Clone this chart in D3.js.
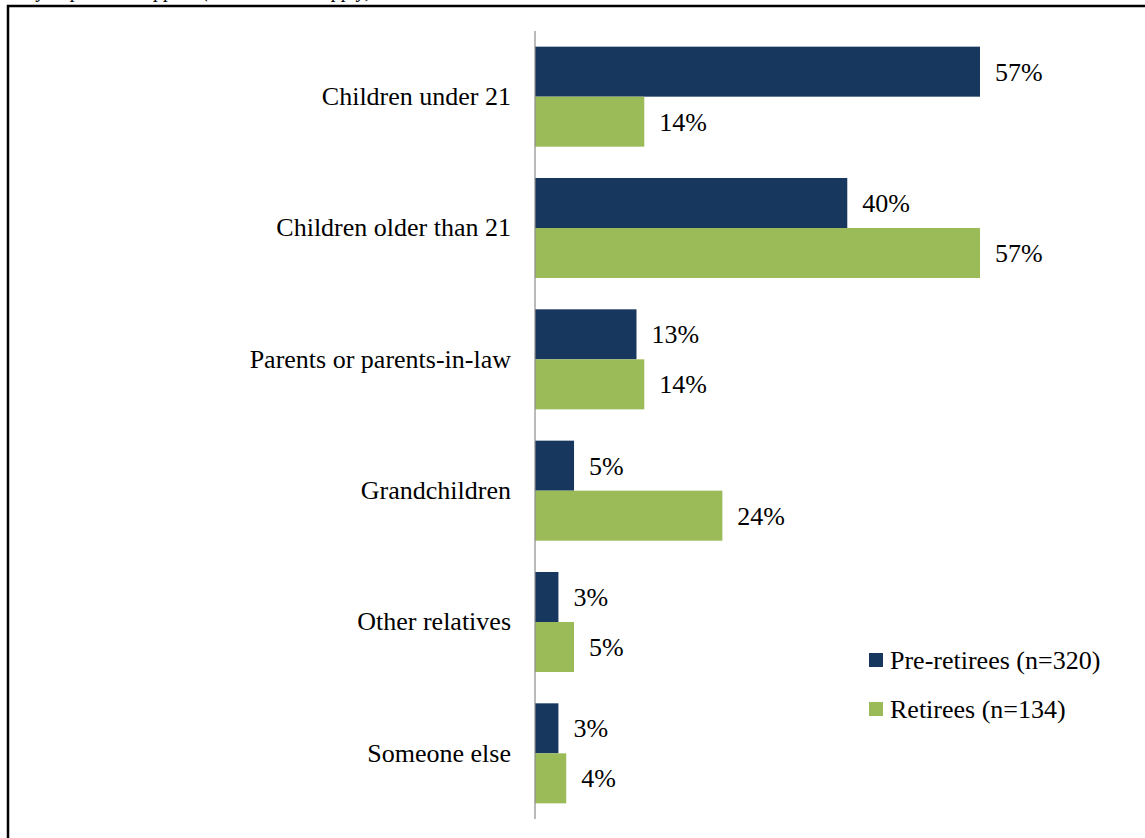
<!DOCTYPE html>
<html><head><meta charset="utf-8">
<script src="https://cdn.jsdelivr.net/npm/d3@7"></script>
<style>html,body{margin:0;padding:0;background:#fff;overflow:hidden}
svg text{font-family:"Liberation Serif","Times New Roman","DejaVu Serif",serif;}</style>
</head><body>
<script>
const categories = ["Children under 21","Children older than 21","Parents or parents-in-law","Grandchildren","Other relatives","Someone else"];
const seriesNames = ["Pre-retirees (n=320)","Retirees (n=134)"];
const preRetirees = [57,40,13,5,3,3];
const retirees = [14,57,14,24,5,4];
const colors = ["#17375E","#9BBB59"];
const titleText = "Whom do you provide support (select all that apply)";

const W = 1145, H = 838;
const svg = d3.select("body").append("svg").attr("width", W).attr("height", H);
const FS = 26;

// cut-off title
svg.append("text").attr("x", 373).attr("y", -3).attr("text-anchor","end")
  .attr("font-style","italic").attr("font-size", 20)
  .text(titleText);

// frame
svg.append("rect").attr("x", 8).attr("y", 6).attr("width", 1160).attr("height", 860)
  .attr("fill","none").attr("stroke","#000").attr("stroke-width", 2.5);

const x0 = 535;
const x = d3.scaleLinear().domain([0, 57]).range([x0, 980]);
const y = d3.scaleBand().domain(categories).range([31, 819]).paddingInner(31.3/131.3).paddingOuter(15.65/131.3);
const ys = d3.scaleBand().domain([0,1]).range([0, y.bandwidth()]);

const data = categories.map((c,i)=>({cat:c, vals:[preRetirees[i], retirees[i]]}));
const g = svg.append("g");
const groups = g.selectAll("g.grp").data(data).join("g").attr("class","grp")
  .attr("transform", d=>`translate(0,${y(d.cat)})`);
groups.selectAll("rect").data(d=>d.vals).join("rect")
  .attr("x", x(0)).attr("y", (v,i)=>ys(i)).attr("width", v=>x(v)-x(0)).attr("height", ys.bandwidth())
  .attr("fill", (v,i)=>colors[i]);
groups.selectAll("text.val").data(d=>d.vals).join("text").attr("class","val")
  .attr("x", v=>x(v)+15).attr("y", (v,i)=>ys(i)+ys.bandwidth()/2).attr("dy","0.35em")
  .attr("font-size", FS).attr("fill","#000")
  .text(v=>v+"%");

// axis
const yAxis = d3.axisLeft(y).tickSize(0).tickPadding(24);
const ax = svg.append("g").attr("transform", `translate(${x0},0)`).call(yAxis);
ax.attr("font-family", null);
ax.select(".domain").attr("stroke","#8c8c8c").attr("stroke-width",1.2).attr("d", `M0,${31}V${819}`);
ax.selectAll("text").attr("font-size", FS).attr("fill","#000");

// legend
const leg = svg.append("g").attr("transform","translate(869,660)");
seriesNames.forEach((s,i)=>{
  const r = leg.append("g").attr("transform",`translate(0,${i*49})`);
  r.append("rect").attr("x",0).attr("y",-7).attr("width",14).attr("height",14).attr("fill",colors[i]);
  r.append("text").attr("x",21).attr("y",0).attr("dy","0.35em").attr("font-size",FS).text(s);
});
</script>
</body></html>
